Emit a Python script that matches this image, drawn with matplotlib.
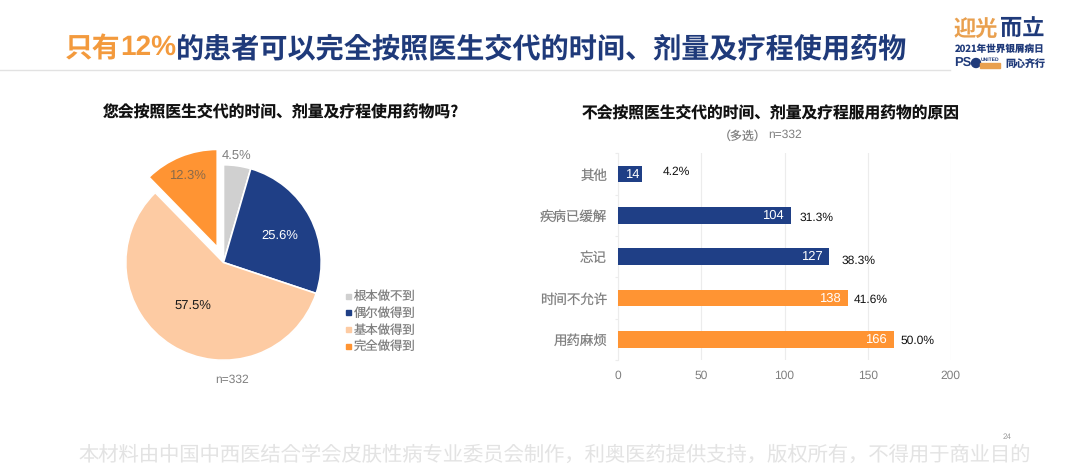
import glob
import matplotlib
matplotlib.use("Agg")
import matplotlib.pyplot as plt
from matplotlib import font_manager as fm
from matplotlib.patches import Rectangle, Circle

W, H = 1080, 473
LAT = "Liberation Sans"
names = {f.name for f in fm.fontManager.ttflist}
CJK = next((n for n in ["Noto Sans CJK SC", "Noto Sans CJK JP", "Noto Sans CJK TC", "Noto Sans CJK KR"] if n in names),
           "DejaVu Sans")
plt.rcParams["font.family"] = CJK
plt.rcParams["text.hinting"] = "no_hinting"
plt.rcParams["text.hinting_factor"] = 1

REG = fm.FontProperties(family=CJK)
for pat in ["NotoSansCJK-DemiLight.ttc", "NotoSansCJK-Regular.ttc"]:
    hits = glob.glob("/usr/share/fonts/**/" + pat, recursive=True)
    if hits:
        REG = fm.FontProperties(fname=hits[0])
        break

# ---- data ----
pie_labels = ["根本做不到", "偶尔做得到", "基本做得到", "完全做得到"]
pie_values = [4.5, 25.6, 57.5, 12.3]
bar_categories = ["其他", "疾病已缓解", "忘记", "时间不允许", "用药麻烦"]
bar_counts = [14, 104, 127, 138, 166]
bar_percents = ["4.2%", "31.3%", "38.3%", "41.6%", "50.0%"]
bar_ticks = [0, 50, 100, 150, 200]

title_parts = ["只有", "12%", "的患者可以完全按照医生交代的时间、剂量及疗程使用药物"]
left_title = "您会按照医生交代的时间、剂量及疗程使用药物吗?"
right_title = "不会按照医生交代的时间、剂量及疗程服用药物的原因"
footer = "本材料由中国中西医结合学会皮肤性病专业委员会制作，利奥医药提供支持，版权所有，不得用于商业目的"

# ---- styles ----
NAVY = "#1F3F86"
ORANGE = "#FF9433"
PEACH = "#FDCBA3"
LGRAY = "#D0D0D0"
TXT = "#7F7F7F"
pie_colors = [LGRAY, NAVY, PEACH, ORANGE]
pie_explode = [0, 0, 0, 0.17]
pie_label_color = ["#7F7F7F", "white", "#1a1a1a", "#8a6a4a"]
bar_colors = [NAVY, NAVY, NAVY, ORANGE, ORANGE]
pct_offsets = [(21, 2), (8, -2), (12, -4), (6, -2), (6, -1)]
count_offsets = [-2, -7, -7, -7, -7]

fig = plt.figure(figsize=(W / 100, H / 100), dpi=100, facecolor="white")


def fx(px):
    return px / W


def fy(py):
    return 1 - py / H


def put(px, py, s, **kw):
    kw.setdefault("va", "center")
    return fig.text(fx(px), fy(py), s, **kw)


# header
put(65, 49, title_parts[0], color="#F39A3D", fontsize=20, fontweight="bold")
put(120, 47.5, title_parts[1], color="#F39A3D", fontsize=20, fontweight="bold", family=LAT)
put(176, 49, title_parts[2], color="#1F3A7A", fontsize=20.25, fontweight="bold")
fig.add_artist(plt.Line2D([0, fx(950)], [fy(70.5)] * 2, color="#E2E2E2", lw=1))

# logo text
put(954, 29, "迎光", color="#E9A04F", fontsize=16, fontweight="bold")
put(1000, 29, "而立", color="#1F3A7A", fontsize=16, fontweight="bold")
put(955, 49, "2021年世界银屑病日", color="#1F3A7A", fontsize=6.9, fontweight="bold")
put(954, 63, "PS", color="#1F3A7A", fontsize=9, fontweight="bold", family=LAT)
fig.add_artist(Circle((976, H - 63), 4.5, color="#1F3A7A", transform=None))
put(981, 60, "UNITED", color="#1F3A7A", fontsize=3.8, fontweight="bold", family=LAT)
fig.add_artist(Rectangle((fx(980), fy(68)), 20 / W, 5 / H, color="#E9A04F", transform=fig.transFigure))
put(1005, 63.5, "同心齐行", color="#1F3A7A", fontsize=7.2, fontweight="bold")

# pie
R = 97.7
cx, cy = 223.5, 262.5
ax_p = fig.add_axes([fx(cx - R), fy(cy + R), 2 * R / W, 2 * R / H])
ax_p.pie(pie_values, colors=pie_colors, explode=pie_explode, startangle=90, counterclock=False,
         radius=1, wedgeprops=dict(edgecolor="white", linewidth=1.2, clip_on=False))
ax_p.set_xlim(-1, 1)
ax_p.set_ylim(-1, 1)
ax_p.set_aspect("equal")
ax_p.axis("off")

pie_pct_pos = [(237, 156), (280, 235.5), (193, 305.5), (187, 176)]
for v, (px, py), c in zip(pie_values, pie_pct_pos, pie_label_color):
    put(px, py, f"{v:.1f}%", color=c, fontsize=9.7, ha="center", family=LAT)

put(281, 113, left_title, color="#111111", fontsize=11.4, fontweight="bold", ha="center")
put(232, 380, "n=332", color=TXT, fontsize=8.7, ha="center", family=LAT)

for i, (lab, c) in enumerate(zip(pie_labels, pie_colors)):
    py = 296 + i * 16.7
    fig.add_artist(Rectangle((fx(346), fy(py + 2.5)), 4.5 / W, 5 / H, color=c, transform=fig.transFigure))
    put(354, py + 0.5, lab, color=TXT, fontproperties=REG, fontsize=8.9)

# bars
x0, x1, y0, y1 = 618.3, 950.7, 153.5, 360
ax = fig.add_axes([fx(x0), fy(y1), (x1 - x0) / W, (y1 - y0) / H])
ypos = list(range(len(bar_counts)))
ax.barh(ypos, bar_counts, height=0.4, color=bar_colors, zorder=3)
ax.set_xlim(bar_ticks[0], bar_ticks[-1])
ax.set_ylim(len(bar_counts) - 0.5, -0.5)
ax.set_xticks(bar_ticks)
ax.set_xticklabels([str(t) for t in bar_ticks], family=LAT)
ax.set_yticks(ypos)
ax.set_yticklabels(bar_categories, fontproperties=REG, fontsize=9.7, color=TXT)
ax.set_yticks([i - 0.5 for i in range(len(bar_counts) + 1)], minor=True)
ax.tick_params(axis="y", which="minor", length=2, color="#ECECEC", width=0.8)
ax.tick_params(axis="x", length=0, pad=7, labelsize=8.5, labelcolor=TXT)
ax.tick_params(axis="y", which="major", length=0, pad=8)
ax.grid(axis="x", color="#ECECEC", lw=0.8, zorder=0)
for s in ax.spines.values():
    s.set_visible(False)
ax.spines["left"].set_visible(True)
ax.spines["left"].set_color("#ECECEC")

for i, (v, p, off, c_off) in enumerate(zip(bar_counts, bar_percents, pct_offsets, count_offsets)):
    ax.annotate(str(v), (v, i), xytext=(c_off, 0), textcoords="offset pixels", ha="right", va="center",
                color="white", fontsize=9.3, zorder=4, family=LAT)
    ax.annotate(p, (v, i), xytext=off, textcoords="offset pixels", ha="left", va="center",
                color="#111111", fontsize=8.8, zorder=4, family=LAT)

put(771, 114, right_title, color="#111111", fontsize=11.35, fontweight="bold", ha="center")
put(719, 136.5, "（多选）", color=TXT, fontproperties=REG, fontsize=8.6)
put(768, 135, "n=332", color=TXT, fontsize=8.7, family=LAT)

# footer
put(555, 455, footer, color="#E3E3E3", fontproperties=REG, fontsize=14.6, ha="center")
put(1007, 437, "24", color="#9A9A9A", fontsize=5.5, ha="center", family=LAT)

fig.savefig("out.png", dpi=100, facecolor="white")
